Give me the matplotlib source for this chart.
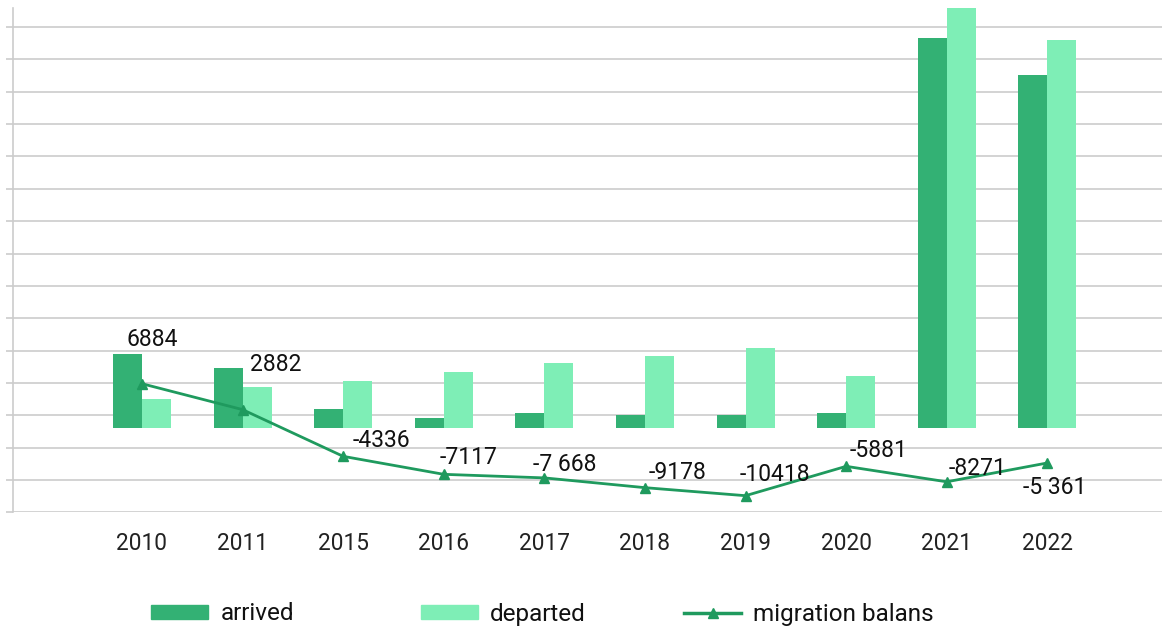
import matplotlib
matplotlib.use("Agg")
import matplotlib.pyplot as plt
from matplotlib.patches import Patch
from matplotlib.lines import Line2D
import numpy as np

plt.rcParams['font.family'] = ['Roboto', 'DejaVu Sans']

# ---- data ----
years = ["2010", "2011", "2015", "2016", "2017", "2018", "2019", "2020", "2021", "2022"]
arrived = [11480, 9270, 3040, 1545, 2365, 2055, 2010, 2290, 60330, 54600]
departed = [4530, 6380, 7370, 8650, 10090, 11220, 12360, 8130, 68600, 59960]
balance = [6884, 2882, -4336, -7117, -7668, -9178, -10418, -5881, -8271, -5361]
balance_labels = ["6884", "2882", "-4336", "-7117", "-7 668", "-9178", "-10418", "-5881", "-8271", "-5 361"]

# label offsets in pixels (style)
label_offsets = [(10, 37.7), (33, 38.7), (38, 9.4), (25, 9.9), (20, 6.7),
                 (33, 9.0), (29, 14.3), (32, 9.3), (31, 6.9), (7, -31.3)]

c_arr = "#33b174"
c_dep = "#7eeeb6"
c_line = "#1f9a5e"
c_grid = "#cccccc"

W, H = 1162, 628
fig = plt.figure(figsize=(W / 100, H / 100), dpi=100)
ax = fig.add_axes([13.3 / W, 1 - 512.4 / H, 1 - 13.3 / W, (512.4 - 7.6) / H])

x = np.arange(len(years))
bw = 0.288
ax.bar(x - bw / 2, arrived, width=bw, color=c_arr, zorder=2)
ax.bar(x + bw / 2, departed, width=bw, color=c_dep, zorder=2)
ax.plot(x, balance, color=c_line, lw=2.0, marker="^", markersize=7.5, zorder=3)

for xi, v, lab, off in zip(x, balance, balance_labels, label_offsets):
    ax.annotate(lab, (xi, v), xytext=off, textcoords="offset pixels",
                ha="center", va="baseline", fontsize=16.5, color="#111111", zorder=4)

ax.set_xlim(-1.279, 10.14)
ax.set_ylim(-13000, 65000)
ax.set_yticks(np.arange(-13000, 62001, 5000))
ax.yaxis.grid(True, color=c_grid, lw=1.2)
ax.set_axisbelow(True)
ax.tick_params(axis="y", length=5, color=c_grid, width=1.2, labelleft=False)
ax.set_xticks(x)
ax.set_xticklabels(years, fontsize=16.3, color="#222222")
ax.tick_params(axis="x", length=0, pad=14)
for s in ["top", "right", "bottom"]:
    ax.spines[s].set_visible(False)
ax.spines["left"].set_color(c_grid)
ax.spines["left"].set_linewidth(1.2)

# ---- legend: three separate entries ----
handles = [Patch(color=c_arr), Patch(color=c_dep),
           Line2D([], [], color=c_line, lw=2.5, marker="^", markersize=7)]
names = ["arrived", "departed", "migration balans"]
starts = [151, 421, 684]
for h, n, sx in zip(handles, names, starts):
    lg = fig.legend([h], [n], loc="center left", bbox_to_anchor=(sx / W, 1 - 614 / H),
                    frameon=False, fontsize=17.5, handlelength=2.35, handleheight=0.49,
                    handletextpad=0.5, borderpad=0, borderaxespad=0)
    for t in lg.get_texts():
        t.set_color("#111111")

fig.savefig("out.png", dpi=100)
